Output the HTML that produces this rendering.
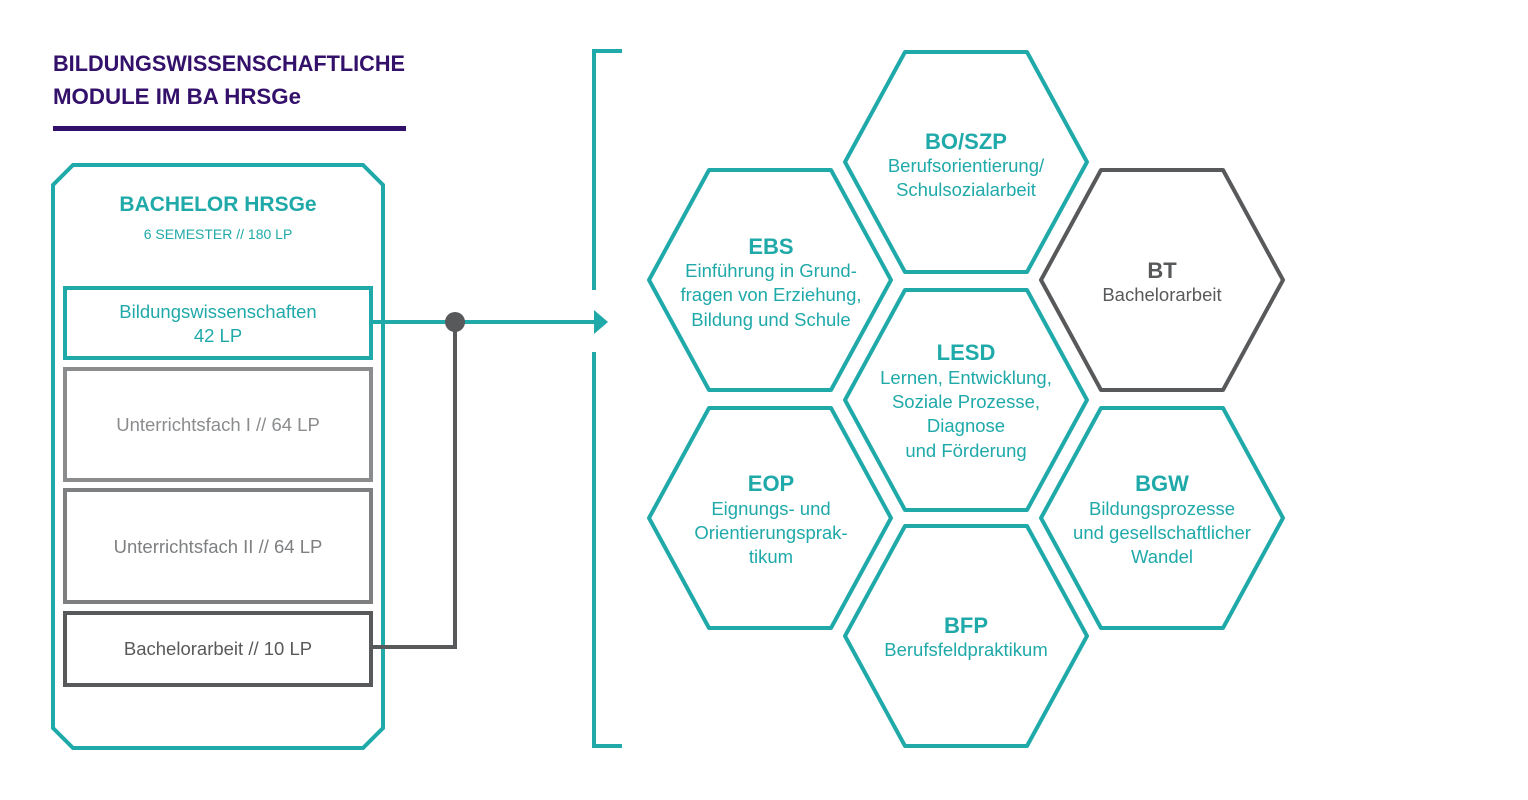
<!DOCTYPE html>
<html><head><meta charset="utf-8"><style>
html,body{margin:0;padding:0;background:#fff;}
svg{display:block;font-family:"Liberation Sans",sans-serif;}
</style></head><body>
<svg width="1528" height="800" viewBox="0 0 1528 800" xmlns="http://www.w3.org/2000/svg">
<g fill="#33106a" font-weight="bold" font-size="22">
<text x="53" y="71" textLength="352" lengthAdjust="spacingAndGlyphs">BILDUNGSWISSENSCHAFTLICHE</text>
<text x="53" y="104" textLength="248" lengthAdjust="spacingAndGlyphs">MODULE IM BA HRSGe</text>
</g>
<rect x="53" y="126" width="353" height="5" fill="#33106a"/>
<polygon points="73,165 363,165 383,185 383,728 363,748 73,748 53,728 53,185" fill="none" stroke="#20a9a9" stroke-width="4"/>
<text x="218" y="211" text-anchor="middle" fill="#20a9a9" font-weight="bold" font-size="21">BACHELOR HRSGe</text>
<text x="218" y="239" text-anchor="middle" fill="#20a9a9" font-size="14">6 SEMESTER // 180 LP</text>
<rect x="65" y="288" width="306" height="70" fill="none" stroke="#20a9a9" stroke-width="4"/>
<text x="218" y="318" text-anchor="middle" fill="#20a9a9" font-size="18.5">Bildungswissenschaften</text>
<text x="218" y="342" text-anchor="middle" fill="#20a9a9" font-size="18.5">42 LP</text>
<rect x="65" y="369" width="306" height="111" fill="none" stroke="#8a8c8e" stroke-width="4"/>
<text x="218" y="431" text-anchor="middle" fill="#8a8c8e" font-size="18.5">Unterrichtsfach I // 64 LP</text>
<rect x="65" y="490" width="306" height="112" fill="none" stroke="#7d7f81" stroke-width="4"/>
<text x="218" y="553" text-anchor="middle" fill="#7d7f81" font-size="18.5">Unterrichtsfach II // 64 LP</text>
<rect x="65" y="613" width="306" height="72" fill="none" stroke="#58595b" stroke-width="4"/>
<text x="218" y="655" text-anchor="middle" fill="#58595b" font-size="18.5">Bachelorarbeit // 10 LP</text>
<polyline points="373,647 455,647 455,322" fill="none" stroke="#58595b" stroke-width="4"/>
<line x1="371" y1="322" x2="596" y2="322" stroke="#20a9a9" stroke-width="4"/>
<polygon points="594,310 608,322 594,334" fill="#20a9a9"/>
<circle cx="455" cy="322" r="10" fill="#58595b"/>
<polyline points="622,51 594,51 594,290" fill="none" stroke="#20a9a9" stroke-width="4"/>
<polyline points="594,352 594,746 622,746" fill="none" stroke="#20a9a9" stroke-width="4"/>
<defs>
<polygon id="hx" points="-61,-110 61,-110 121,0 61,110 -61,110 -121,0"/>
</defs>
<g fill="none" stroke-width="4" stroke-linejoin="round">
<use href="#hx" x="966" y="162" stroke="#20a9a9"/>
<use href="#hx" x="770" y="280" stroke="#20a9a9"/>
<use href="#hx" x="1162" y="280" stroke="#58595b"/>
<use href="#hx" x="966" y="400" stroke="#20a9a9"/>
<use href="#hx" x="770" y="518" stroke="#20a9a9"/>
<use href="#hx" x="1162" y="518" stroke="#20a9a9"/>
<use href="#hx" x="966" y="636" stroke="#20a9a9"/>
</g>
<g text-anchor="middle" fill="#20a9a9" font-size="18.5">
<text x="966" y="149" font-weight="bold" font-size="22">BO/SZP</text>
<text x="966" y="172">Berufsorientierung/</text>
<text x="966" y="196">Schulsozialarbeit</text>
<text x="771" y="254" font-weight="bold" font-size="22">EBS</text>
<text x="771" y="277">Einführung in Grund-</text>
<text x="771" y="301">fragen von Erziehung,</text>
<text x="771" y="326">Bildung und Schule</text>
<text x="966" y="360" font-weight="bold" font-size="22">LESD</text>
<text x="966" y="384">Lernen, Entwicklung,</text>
<text x="966" y="408">Soziale Prozesse,</text>
<text x="966" y="432">Diagnose</text>
<text x="966" y="457">und Förderung</text>
<text x="771" y="491" font-weight="bold" font-size="22">EOP</text>
<text x="771" y="515">Eignungs- und</text>
<text x="771" y="539">Orientierungsprak-</text>
<text x="771" y="563">tikum</text>
<text x="1162" y="491" font-weight="bold" font-size="22">BGW</text>
<text x="1162" y="515">Bildungsprozesse</text>
<text x="1162" y="539">und gesellschaftlicher</text>
<text x="1162" y="563">Wandel</text>
<text x="966" y="633" font-weight="bold" font-size="22">BFP</text>
<text x="966" y="656">Berufsfeldpraktikum</text>
</g>
<g text-anchor="middle" fill="#58595b" font-size="18.5">
<text x="1162" y="278" font-weight="bold" font-size="22">BT</text>
<text x="1162" y="301">Bachelorarbeit</text>
</g>
</svg>
</body></html>
